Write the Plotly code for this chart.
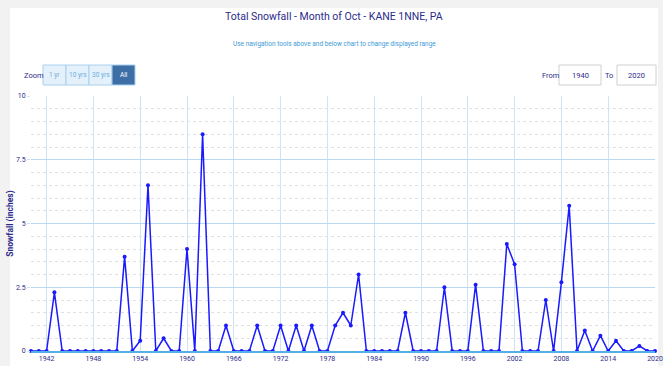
import plotly.graph_objects as go

# October snowfall totals, KANE 1NNE, PA
years = list(range(1940, 2021))
snowfall = [
    0, 0, 0, 2.3, 0, 0, 0, 0, 0, 0,        # 1940-1949
    0, 0, 3.7, 0, 0.4, 6.5, 0, 0.5, 0, 0,  # 1950-1959
    4.0, 0, 8.5, 0, 0, 1.0, 0, 0, 0, 1.0,  # 1960-1969
    0, 0, 1.0, 0, 1.0, 0, 1.0, 0, 0, 1.0,  # 1970-1979
    1.5, 1.0, 3.0, 0, 0, 0, 0, 0, 1.5, 0,  # 1980-1989
    0, 0, 0, 2.5, 0, 0, 0, 2.6, 0, 0,      # 1990-1999
    0, 4.2, 3.4, 0, 0, 0, 2.0, 0, 2.7, 5.7,  # 2000-2009
    0, 0.8, 0, 0.6, 0, 0.4, 0, 0, 0.2, 0,  # 2010-2019
    0,                                     # 2020
]
x_ticks = list(range(1942, 2021, 6))
y_ticks = [0, 2.5, 5, 7.5, 10]
zoom_buttons = ["1 yr", "10 yrs", "30 yrs", "All"]
range_from, range_to = "1940", "2020"

W, H = 663, 366
L, R, T, B = 31, 8, 96, 15
PW, PH = W - L - R, H - T - B

FONT = "Roboto, Lato, sans-serif"
NAVY = "#2b2b8c"


def px_x(px):
    return (px - L) / PW


def px_y(py):
    return (H - B - py) / PH


def label(text, x, y, size, color=NAVY, **kw):
    return dict(text=text, xref="paper", yref="paper", x=px_x(x), y=px_y(y),
                xanchor="center", yanchor="middle", showarrow=False,
                font=dict(family=FONT, size=size, color=color), **kw)


fig = go.Figure()
fig.add_trace(go.Scatter(
    x=years, y=snowfall, mode="lines+markers",
    line=dict(color="#1a1aff", width=1.5),
    marker=dict(color="#1a1aff", size=4),
    cliponaxis=False, showlegend=False,
))

shapes = []
annotations = []

# white chart panel on grey page
shapes.append(dict(type="rect", xref="paper", yref="paper", layer="below",
                   x0=px_x(10), x1=px_x(658), y0=px_y(H + 5), y1=px_y(8),
                   fillcolor="white", line=dict(width=0)))

# title and subtitle
annotations.append(label("Total Snowfall - Month of Oct - KANE 1NNE, PA", 334, 16, 10.5))
annotations.append(label("Use navigation tools above and below chart to change displayed range",
                         334, 44, 6.5, color="#3d9ad6"))

# range selector buttons
annotations.append(label("Zoom", 34, 75, 7.5))
btn_edges = [43, 66, 89, 112, 135]
for i, name in enumerate(zoom_buttons):
    active = name == "All"
    shapes.append(dict(type="rect", xref="paper", yref="paper",
                       x0=px_x(btn_edges[i]), x1=px_x(btn_edges[i + 1]),
                       y0=px_y(85), y1=px_y(65),
                       fillcolor="#3e6ea6" if active else "#e4f0fa",
                       line=dict(color="#a9d0ee", width=1)))
    annotations.append(label(name, (btn_edges[i] + btn_edges[i + 1]) / 2, 75, 6.5,
                             color="white" if active else "#6aaee0"))

# from / to inputs
annotations.append(label("From", 551, 75, 7.5))
annotations.append(label("To", 609, 75, 7.5))
for (x0, x1), val in [((559, 601), range_from), ((617, 656), range_to)]:
    shapes.append(dict(type="rect", xref="paper", yref="paper",
                       x0=px_x(x0), x1=px_x(x1), y0=px_y(85), y1=px_y(65),
                       fillcolor="white", line=dict(color="#d0d0d0", width=1)))
    annotations.append(label(val, (x0 + x1) / 2, 75, 7.5))

fig.update_layout(
    width=W, height=H,
    margin=dict(l=L, r=R, t=T, b=B, autoexpand=False),
    paper_bgcolor="#f2f2f2",
    plot_bgcolor="white",
    shapes=shapes,
    annotations=annotations,
    xaxis=dict(
        range=[1940, 2020], tickmode="array", tickvals=x_ticks, ticks="", showgrid=True,
        gridcolor="#cfe3f5", gridwidth=1, zeroline=False,
        showline=True, linecolor="#55aee6", linewidth=1.5,
        tickfont=dict(family=FONT, size=7, color=NAVY),
        automargin=False, fixedrange=True,
    ),
    yaxis=dict(
        range=[0, 10], tickmode="array", tickvals=y_ticks,
        ticks="outside", ticklen=3, tickcolor="#cfe3f5",
        showgrid=True, gridcolor="#b9d8f2", gridwidth=1, zeroline=False,
        showline=False,
        minor=dict(tickmode="linear", tick0=0, dtick=0.5, showgrid=True,
                   gridcolor="#e0e0e0", griddash="dot", gridwidth=1),
        tickfont=dict(family=FONT, size=7, color=NAVY),
        title=dict(text="<b>Snowfall (inches)</b>", standoff=0,
                   font=dict(family=FONT, size=8.5, color=NAVY)),
        automargin=False, fixedrange=True,
    ),
)

fig.write_html("out.html")
